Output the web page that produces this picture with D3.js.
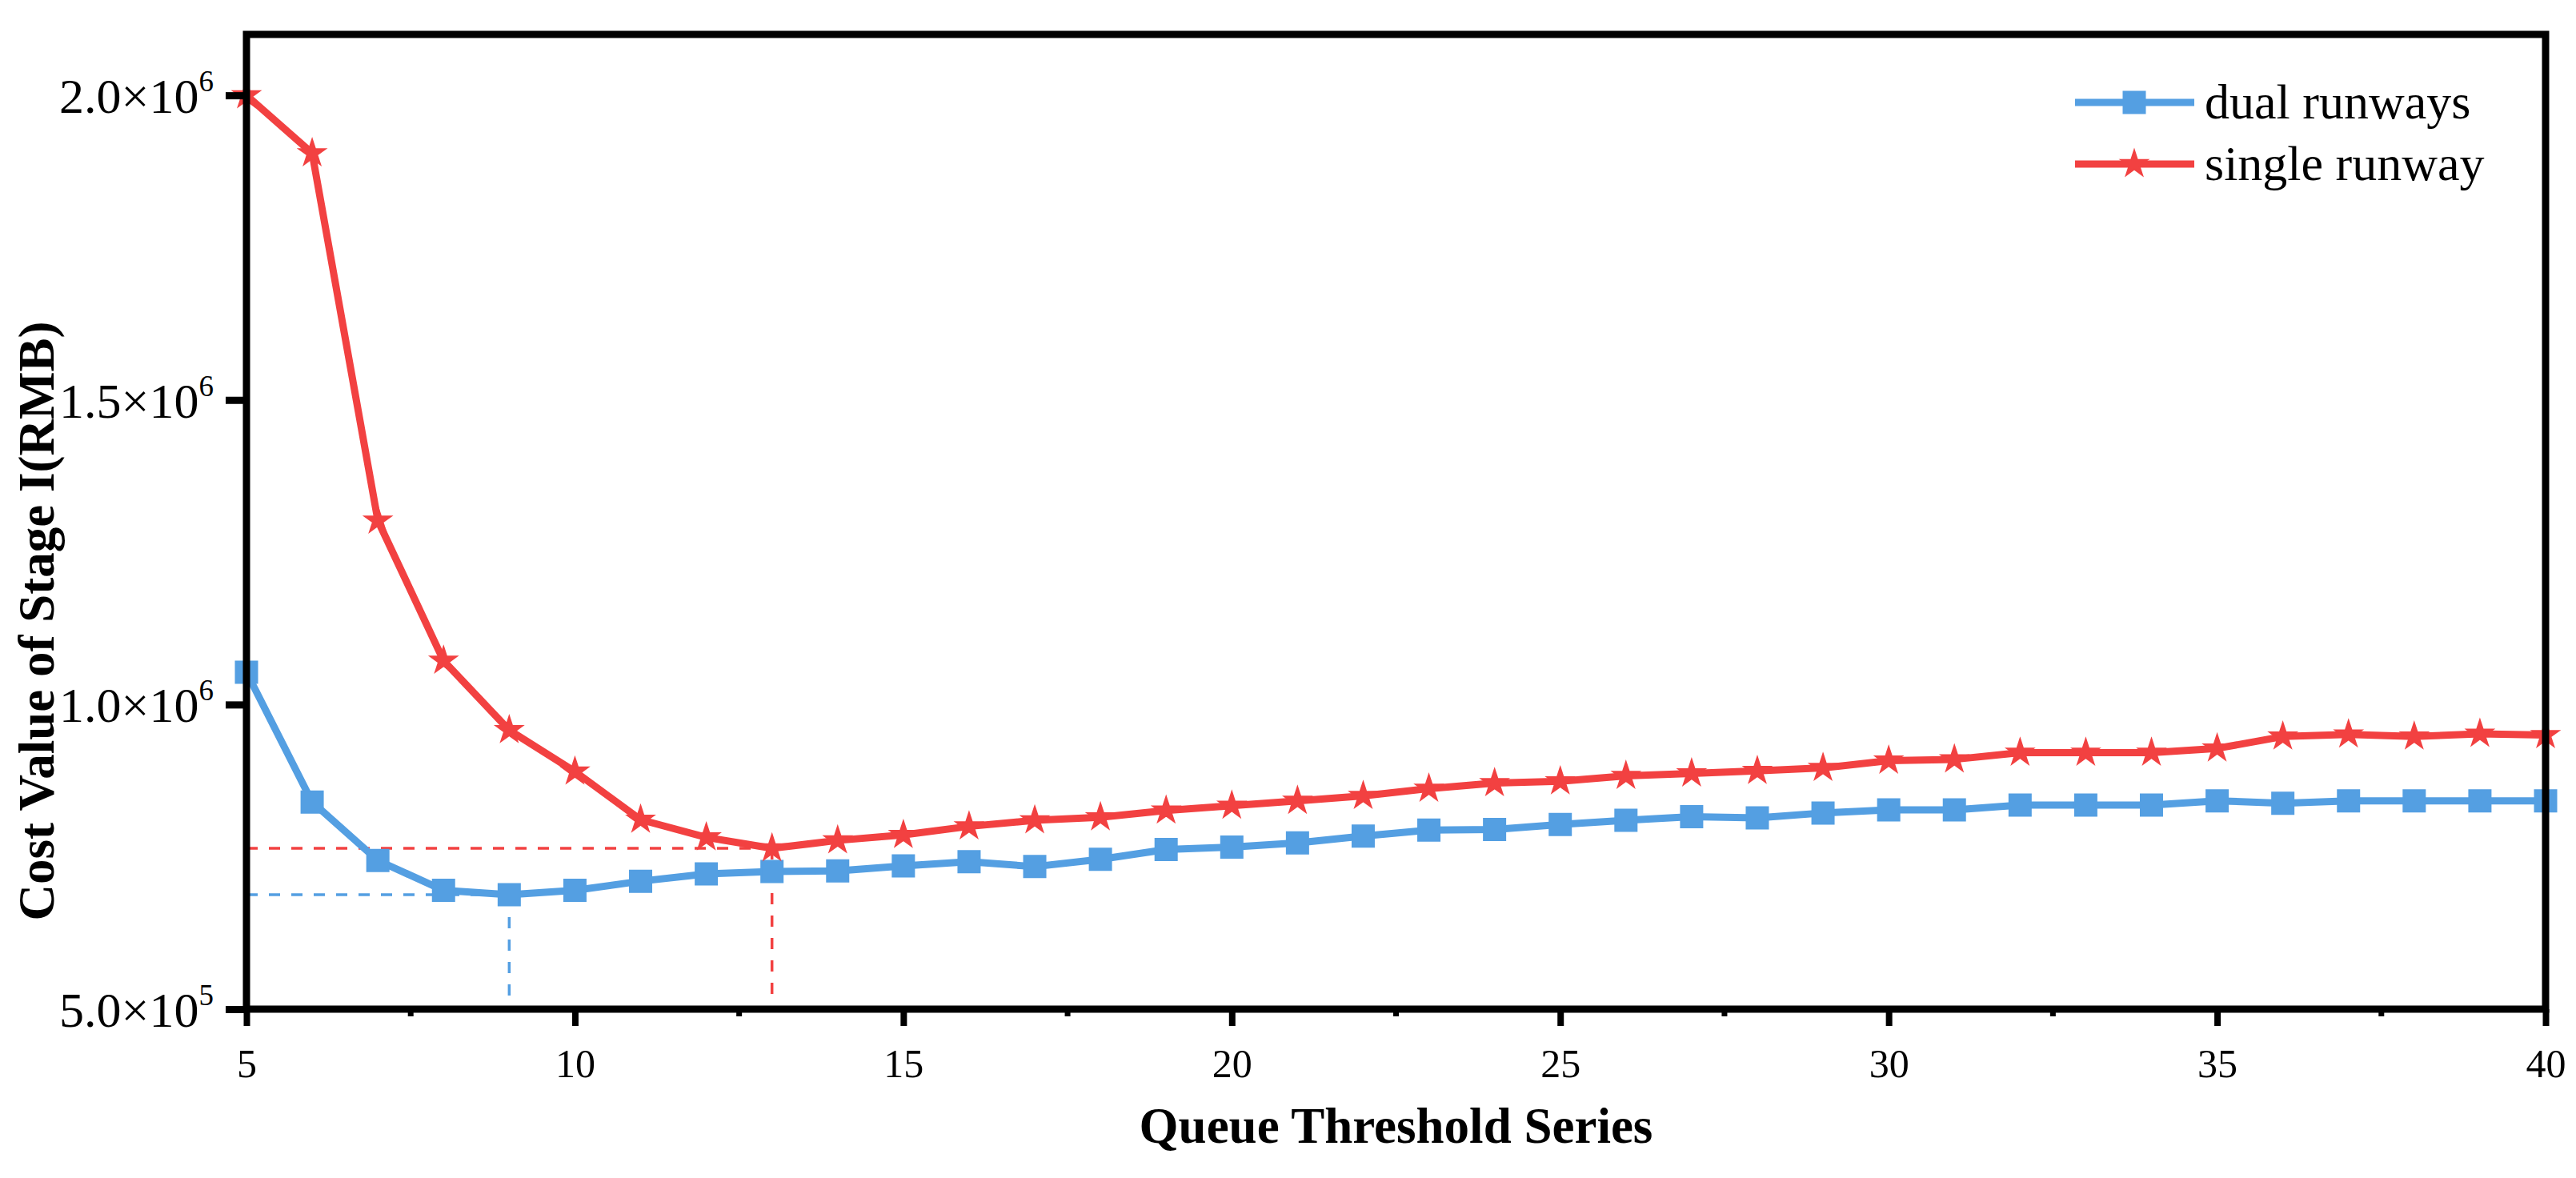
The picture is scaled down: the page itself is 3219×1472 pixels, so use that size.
<!DOCTYPE html>
<html>
<head>
<meta charset="utf-8">
<script src="https://cdn.jsdelivr.net/npm/d3@7"></script>
<style>
  body { margin: 0; background: #fff; }
  text { font-family: "Liberation Serif", "Times New Roman", serif; fill: #000; }
</style>
</head>
<body>
<div id="container"></div>
<script>
const width = 3219;
const height = 1472;

// queue threshold (x categories)
const thresholds = [5, 6, 7, 8, 9, 10, 11, 12, 13, 14, 15, 16, 17, 18, 19, 20, 21, 22,
    23, 24, 25, 26, 27, 28, 29, 30, 31, 32, 33, 34, 35, 36, 37, 38, 39, 40];

const dualRunways = [1053000, 840000, 744000, 695000, 688000, 695000, 710000, 722000, 726000,
    727000, 735000, 742000, 734000, 746000, 762000, 766000, 773000, 784000, 794000, 795000,
    803000, 810000, 816000, 814000, 822000, 827000, 827000, 835000, 835000, 835000, 842000,
    838000, 842000, 842000, 842000, 842000];

const singleRunway = [2000000, 1905000, 1302000, 1072000, 958000, 890000, 811000, 782000,
    764000, 777000, 786000, 800000, 810000, 815000, 826000, 834000, 842000, 850000, 862000,
    871000, 874000, 883000, 887000, 891000, 896000, 908000, 910000, 921000, 921000, 921000,
    928000, 947500, 951000, 947500, 952000, 950000];

const xTicks = [5, 10, 15, 20, 25, 30, 35, 40];
const xMinorTicks = [7.5, 12.5, 17.5, 22.5, 27.5, 32.5, 37.5];
const yTicks = [500000, 1000000, 1500000, 2000000];
const yTickLabels = [["5.0×10", "5"], ["1.0×10", "6"], ["1.5×10", "6"], ["2.0×10", "6"]];

const blue = "#549fe2";
const red = "#f24141";

const plotLeft = 308, plotRight = 3181, plotTop = 43, plotBottom = 1261;

let x = d3.scaleLinear().domain([5, 40]).range([plotLeft, plotRight]);
let y = d3.scaleLinear().domain([500000, 2100000]).range([plotBottom, plotTop]);

let svg = d3.select("#container").append("svg")
    .attr("width", width)
    .attr("height", height);

// reference dashed lines at each minimum
function minGuide(values, color) {
    let i = d3.minIndex(values);
    let xm = thresholds[i], ym = values[i];
    let g = svg.append("g")
        .attr("stroke", color)
        .attr("stroke-width", 3.5)
        .attr("stroke-dasharray", "14,14")
        .attr("fill", "none");
    g.append("line")
        .attr("x1", x(5)).attr("x2", x(xm))
        .attr("y1", y(ym)).attr("y2", y(ym));
    g.append("line")
        .attr("x1", x(xm)).attr("x2", x(xm))
        .attr("y1", y(ym)).attr("y2", y(520000));
}
minGuide(dualRunways, blue);
minGuide(singleRunway, red);

let line = d3.line()
    .x((d, i) => x(thresholds[i]))
    .y(d => y(d));

const series = [
    { name: "dual runways", values: dualRunways, color: blue, symbol: d3.symbolSquare, size: 729 },
    { name: "single runway", values: singleRunway, color: red, symbol: d3.symbolStar, size: 330 }
];

series.forEach(s => {
    svg.append("path")
        .datum(s.values)
        .attr("d", line)
        .attr("fill", "none")
        .attr("stroke", s.color)
        .attr("stroke-width", 9)
        .attr("stroke-linejoin", "round");

    svg.append("g")
        .selectAll("path")
        .data(s.values)
        .join("path")
        .attr("transform", (d, i) => "translate(" + x(thresholds[i]) + "," + y(d) + ")")
        .attr("d", d3.symbol().type(s.symbol).size(s.size))
        .attr("fill", s.color)
        .attr("stroke", s.color)
        .attr("stroke-width", 2);
});

// frame
svg.append("rect")
    .attr("x", plotLeft).attr("y", plotTop)
    .attr("width", plotRight - plotLeft).attr("height", plotBottom - plotTop)
    .attr("fill", "none")
    .attr("stroke", "#000")
    .attr("stroke-width", 9);

// x axis
let xAxis = svg.append("g")
    .attr("transform", "translate(0," + plotBottom + ")")
    .call(d3.axisBottom(x).tickValues(xTicks).tickSize(21).tickPadding(28));
xAxis.select(".domain").remove();
xAxis.selectAll(".tick line").attr("stroke", "#000").attr("stroke-width", 8);
xAxis.selectAll(".tick text")
    .style("font-family", "Liberation Serif")
    .attr("font-size", 50)
    .attr("dy", "0.71em");

svg.append("g")
    .attr("transform", "translate(0," + plotBottom + ")")
    .selectAll("line")
    .data(xMinorTicks)
    .join("line")
    .attr("x1", d => x(d)).attr("x2", d => x(d))
    .attr("y1", 0).attr("y2", 9)
    .attr("stroke", "#000")
    .attr("stroke-width", 7);

// y axis
let yAxis = svg.append("g")
    .attr("transform", "translate(" + plotLeft + ",0)")
    .call(d3.axisLeft(y).tickValues(yTicks).tickSize(26).tickFormat(""));
yAxis.select(".domain").remove();
yAxis.selectAll(".tick line").attr("stroke", "#000").attr("stroke-width", 9);

let yLab = svg.append("g")
    .selectAll("text")
    .data(yTicks)
    .join("text")
    .attr("x", 267)
    .attr("y", d => y(d) + 22)
    .attr("text-anchor", "end")
    .attr("font-size", 62);
yLab.append("tspan").text((d, i) => yTickLabels[i][0]);
yLab.append("tspan")
    .attr("font-size", 37)
    .attr("dy", -27)
    .text((d, i) => yTickLabels[i][1]);

// axis titles
svg.append("text")
    .attr("x", (plotLeft + plotRight) / 2)
    .attr("y", 1428)
    .attr("text-anchor", "middle")
    .attr("font-size", 63)
    .attr("font-weight", "bold")
    .text("Queue Threshold Series");

svg.append("text")
    .attr("transform", "translate(67,776) rotate(-90)")
    .attr("text-anchor", "middle")
    .attr("font-size", 63)
    .attr("font-weight", "bold")
    .text("Cost Value of Stage I(RMB)");

// legend
let legend = svg.append("g")
    .selectAll("g")
    .data(series)
    .join("g")
    .attr("transform", (d, i) => "translate(0," + (128 + i * 77) + ")");

legend.append("line")
    .attr("x1", 2593).attr("x2", 2742)
    .attr("stroke", d => d.color)
    .attr("stroke-width", 9);
legend.append("path")
    .attr("transform", "translate(2667,0)")
    .attr("d", d => d3.symbol().type(d.symbol).size(d.size)())
    .attr("fill", d => d.color)
    .attr("stroke", d => d.color)
    .attr("stroke-width", 2);
legend.append("text")
    .attr("x", 2755)
    .attr("y", 20)
    .attr("font-size", 62)
    .text(d => d.name);
</script>
</body>
</html>
